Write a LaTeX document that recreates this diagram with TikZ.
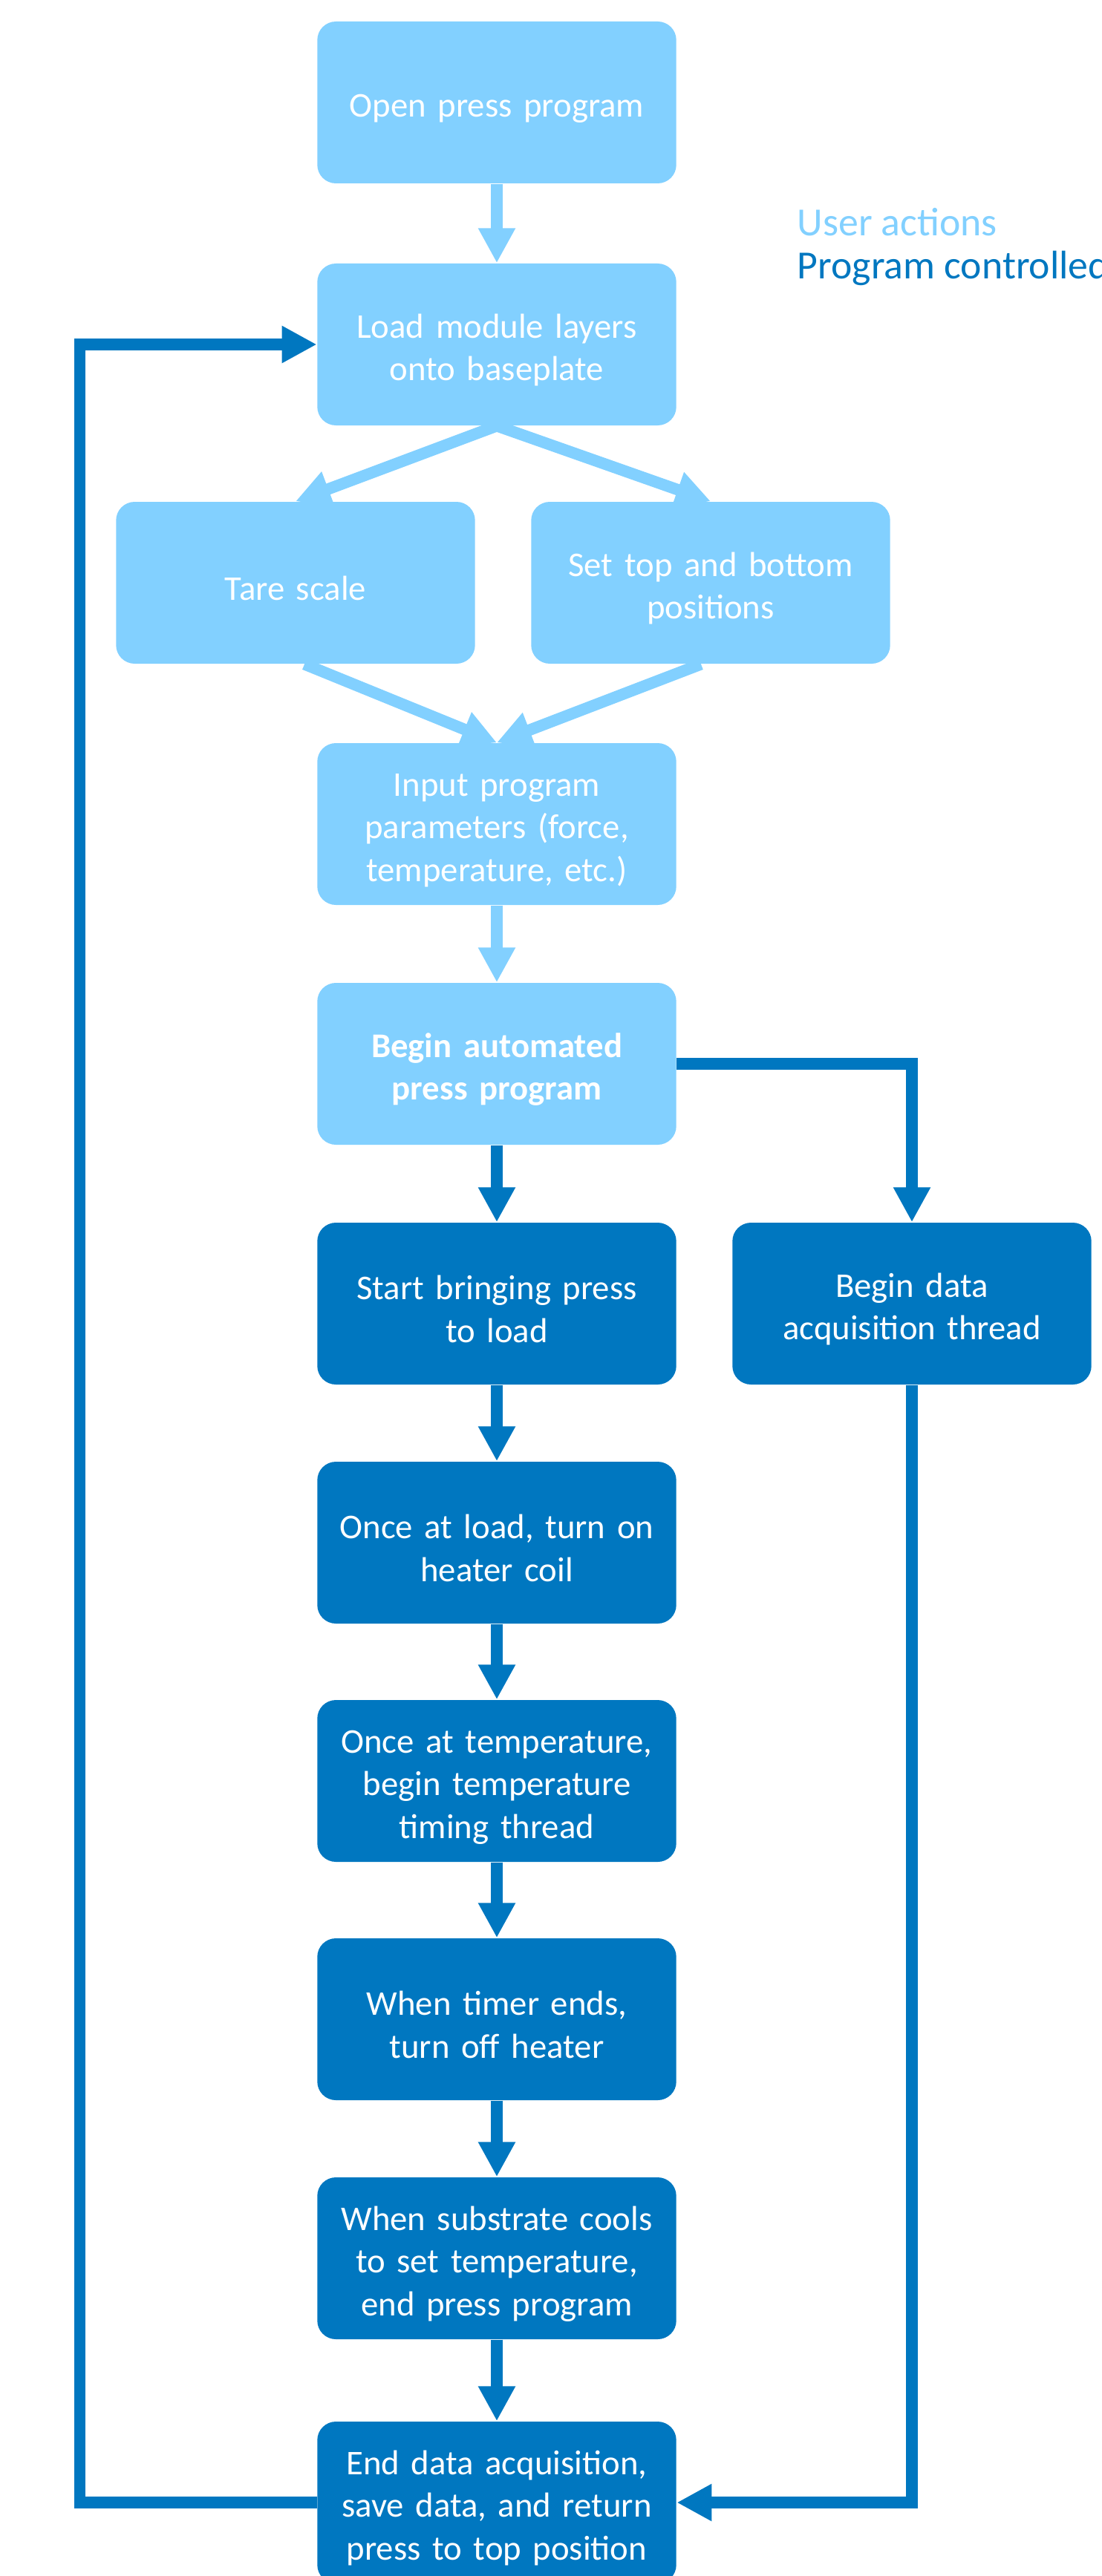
\documentclass[tikz,border=0pt]{standalone}
\usepackage{fontspec}
\setmainfont{Carlito}
\usetikzlibrary{arrows.meta}
\definecolor{userblue}{HTML}{82D0FF}
\definecolor{progblue}{HTML}{0077C0}
\tikzset{
  box/.style={rectangle, rounded corners=0.25cm, minimum width=4.82cm, minimum height=2.18cm,
    text width=4.6cm, align=center, text=white, font=\fontsize{13.3}{16.3}\selectfont,
    execute at begin node={\rule{0pt}{13.5pt}}},
  user/.style={box, fill=userblue},
  prog/.style={box, fill=progblue},
  flow/.style={line width=0.155cm, -{Triangle[length=0.47cm,width=0.47cm]}},
  legend/.style={anchor=west, inner sep=0pt, font=\fontsize{15.3}{18}\selectfont},
}

\begin{document}
\begin{tikzpicture}
    \useasboundingbox (0,0) rectangle (14.84,-34.70);

    % Nodes
    \node[user] (open) at (6.69,-1.38) {Open press program};
    \node[user] (load) at (6.69,-4.64) {Load module layers\\onto baseplate};
    \node[user] (tare) at (3.98,-7.85) {Tare scale};
    \node[user] (settop) at (9.57,-7.85) {Set top and bottom\\positions};
    \node[user] (input) at (6.69,-11.10) {Input program\\parameters (force,\\temperature, etc.)};
    \node[user, font=\fontsize{13.3}{16.3}\selectfont\bfseries] (begin) at (6.69,-14.33) {Begin automated\\press program};
    \node[prog] (start) at (6.69,-17.56) {Start bringing press\\to load};
    \node[prog] (acq) at (12.28,-17.56) {Begin data\\acquisition thread};
    \node[prog] (heater) at (6.69,-20.78) {Once at load, turn on\\heater coil};
    \node[prog] (timing) at (6.69,-23.99) {Once at temperature,\\begin temperature\\timing thread};
    \node[prog] (timer) at (6.69,-27.20) {When timer ends,\\turn off heater};
    \node[prog] (cools) at (6.69,-30.42) {When substrate cools\\to set temperature,\\end press program};
    \node[prog] (enddata) at (6.69,-33.71) {End data acquisition,\\save data, and return\\press to top position};

    \node[legend, text=userblue] (leguser) at (10.73,-2.99) {User actions};
    \node[legend, text=progblue] (legprog) at (10.73,-3.61) {Program controlled};

    % Edges
    \draw[flow, userblue] (open) -- (load);
    \draw[flow, userblue] (load.south) -- (tare.north);
    \draw[flow, userblue] (load.south) -- (settop.north);
    \draw[flow, userblue] ([xshift=0.12cm]tare.south) -- (input.north);
    \draw[flow, userblue] ([xshift=-0.13cm]settop.south) -- (input.north);
    \draw[flow, userblue] (input) -- (begin);
    \draw[flow, progblue] (begin) -- (start);
    \draw[flow, progblue] (begin.east) -| (acq.north);
    \draw[flow, progblue] (start) -- (heater);
    \draw[flow, progblue] (heater) -- (timing);
    \draw[flow, progblue] (timing) -- (timer);
    \draw[flow, progblue] (timer) -- (cools);
    \draw[flow, progblue] (cools) -- (enddata);
    \draw[flow, progblue] (acq.south) |- (enddata.east);
    \draw[flow, progblue] (enddata.west) -- ++(-3.19,0) |- (load.west);
\end{tikzpicture}
\end{document}
